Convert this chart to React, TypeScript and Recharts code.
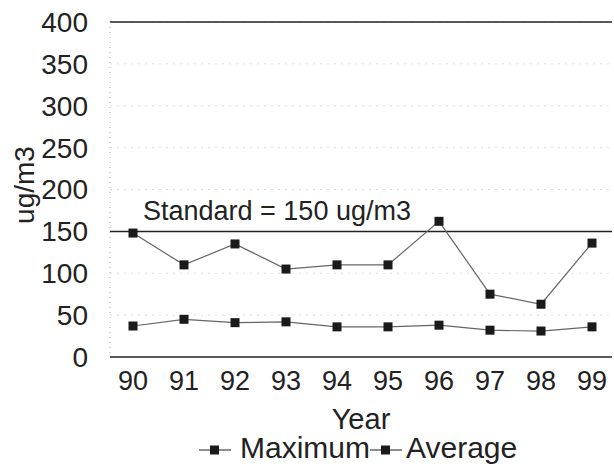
import React from "react";
import {
  LineChart,
  Line,
  XAxis,
  YAxis,
  CartesianGrid,
  ReferenceLine,
  Legend,
} from "recharts";

const years = ["90", "91", "92", "93", "94", "95", "96", "97", "98", "99"];
const maximum = [148, 110, 135, 105, 110, 110, 162, 75, 63, 136];
const average = [37, 45, 41, 42, 36, 36, 38, 32, 31, 36];
const yTicks = [0, 50, 100, 150, 200, 250, 300, 350, 400];
const standard = 150;

const data = years.map((year, i) => ({
  year,
  Maximum: maximum[i],
  Average: average[i],
}));

const FONT = "'Liberation Sans', Arial, sans-serif";

const SquareDot = (props: any) => {
  const { cx, cy, index } = props;
  if (cx == null || cy == null) return null;
  return <rect key={index} x={cx - 4.5} y={cy - 4.5} width={9} height={9} fill="#1a1a1a" />;
};

const LegendIcon = () => (
  <svg width={32} height={12} style={{ verticalAlign: "middle" }}>
    <line x1={0} y1={6} x2={32} y2={6} stroke="#444" strokeWidth={1.2} />
    <rect x={11} y={1.5} width={9} height={9} fill="#1a1a1a" />
  </svg>
);

const renderLegend = () => (
  <div
    style={{
      fontFamily: FONT,
      fontSize: 30,
      color: "#222",
      lineHeight: "30px",
      height: 30,
      paddingLeft: 199,
      textAlign: "left",
      whiteSpace: "nowrap",
    }}
  >
    <LegendIcon />
    <span style={{ marginLeft: 9 }}>Maximum</span>
    <LegendIcon />
    <span style={{ marginLeft: 4 }}>Average</span>
  </div>
);

export default function App() {
  return (
    <div style={{ position: "absolute", left: 0, top: 0, background: "#fff" }}>
      <LineChart
        width={614}
        height={471}
        data={data}
        margin={{ top: 22, right: 2, left: 0, bottom: 0 }}
      >
        <CartesianGrid
          vertical={false}
          stroke="#e0e0e0"
          strokeDasharray="2 5"
        />
        <XAxis
          dataKey="year"
          height={84}
          padding={{ left: 23, right: 20 }}
          axisLine={{ stroke: "#222", strokeWidth: 1.5 }}
          tickLine={false}
          tickSize={0}
          tickMargin={14}
          tick={{ fontSize: 27, fill: "#222", fontFamily: FONT }}
          label={() => (
            <text
              x={361}
              y={429}
              textAnchor="middle"
              fontSize={29}
              fontFamily={FONT}
              fill="#222"
            >
              Year
            </text>
          )}
        />
        <YAxis
          width={110}
          domain={[0, 400]}
          ticks={yTicks}
          interval={0}
          axisLine={{ stroke: "#aaa", strokeDasharray: "1 4" }}
          tickLine={false}
          tickSize={0}
          tickMargin={22}
          tick={{ fontSize: 28, fill: "#222", fontFamily: FONT }}
          label={() => (
            <text
              x={24}
              y={185}
              transform="rotate(-90 24 185)"
              textAnchor="middle"
              dominantBaseline="central"
              fontSize={28}
              fontFamily={FONT}
              fill="#222"
            >
              ug/m3
            </text>
          )}
        />
        <ReferenceLine y={400} stroke="#222" strokeWidth={1.5} />
        <ReferenceLine
          y={standard}
          stroke="#222"
          strokeWidth={1.5}
          label={(p: any) => {
            const vb = p.viewBox || {};
            return (
              <text
                x={(vb.x ?? 110) + 33}
                y={(vb.y ?? 232) - 11}
                fontSize={27}
                fontFamily={FONT}
                fill="#222"
              >
                Standard = 150 ug/m3
              </text>
            );
          }}
        />
        <Line
          dataKey="Maximum"
          stroke="#666"
          strokeWidth={1.2}
          dot={<SquareDot />}
          activeDot={false}
          isAnimationActive={false}
        />
        <Line
          dataKey="Average"
          stroke="#666"
          strokeWidth={1.2}
          dot={<SquareDot />}
          activeDot={false}
          isAnimationActive={false}
        />
        <Legend
          verticalAlign="bottom"
          height={30}
          content={renderLegend}
          wrapperStyle={{ left: 0, width: 614, top: 433 }}
        />
      </LineChart>
    </div>
  );
}
